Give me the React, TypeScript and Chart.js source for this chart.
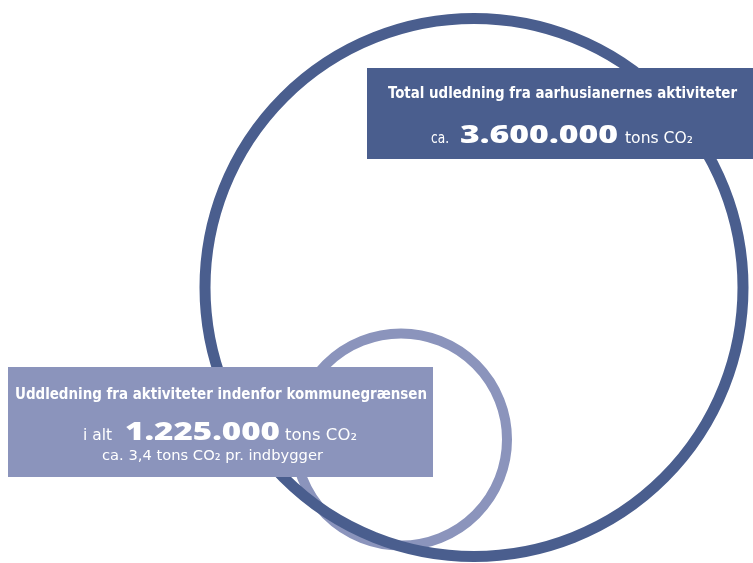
import React, { useEffect, useRef } from "react";
import { Chart, registerables } from "chart.js";

Chart.register(...registerables);

// ---- data ----
const circleTitles = [
  "Total udledning fra aarhusianernes aktiviteter",
  "Uddledning fra aktiviteter indenfor kommunegrænsen",
];
const emissionsTons = [3600000, 1225000];
const amountPrefixes = ["ca.", "i alt"];
const unitText = "tons CO₂";
const perCapitaText = "ca. 3,4 tons CO₂ pr. indbygger";
// bubble positions / radii in the chart's own (unitless) coordinate system
const bubbleX = [474, 401];
const bubbleY = [287.5, 439.5];
const bubbleR = [269, 106];

const DARK = "rgb(74, 94, 142)";
const LIGHT = "rgb(139, 148, 188)";

function fmt(n: number): string {
  return String(n).replace(/\B(?=(\d{3})+(?!\d))/g, ".");
}

function fitText(
  ctx: CanvasRenderingContext2D,
  text: string,
  font: string,
  left: number,
  right: number,
  baseline: number
) {
  ctx.save();
  ctx.font = font;
  ctx.textAlign = "left";
  ctx.textBaseline = "alphabetic";
  const w = ctx.measureText(text).width || 1;
  ctx.translate(left, baseline);
  ctx.scale((right - left) / w, 1);
  ctx.fillStyle = "#ffffff";
  ctx.fillText(text, 0, 0);
  ctx.restore();
}

const COND = "'DejaVu Sans Condensed', 'Liberation Sans Narrow', 'DejaVu Sans', sans-serif";
const BIG = "'Open Sans', 'DejaVu Sans', sans-serif";

const labelPlugin = {
  id: "labelBoxes",
  afterDatasetsDraw(chart: any) {
    const ctx: CanvasRenderingContext2D = chart.ctx;
    ctx.save();
    // top box
    ctx.fillStyle = DARK;
    ctx.fillRect(367, 68, 386, 91);
    fitText(ctx, circleTitles[0], `bold 16px ${COND}`, 388, 737, 98);
    fitText(ctx, amountPrefixes[0], `16px ${COND}`, 431, 449, 143);
    fitText(ctx, fmt(emissionsTons[0]), `800 25px ${BIG}`, 460, 618, 143);
    fitText(ctx, unitText, `15px ${COND}`, 625, 693, 143);

    // bottom box
    ctx.fillStyle = LIGHT;
    ctx.fillRect(8, 367, 425, 110);
    fitText(ctx, circleTitles[1], `bold 16px ${COND}`, 15, 427, 399);
    fitText(ctx, amountPrefixes[1], `15px ${COND}`, 83, 112, 440);
    fitText(ctx, fmt(emissionsTons[1]), `800 25px ${BIG}`, 125, 280, 440);
    fitText(ctx, unitText, `15px ${COND}`, 285, 357, 440);
    fitText(ctx, perCapitaText, `14px ${COND}`, 102, 323, 460);
    ctx.restore();
  },
};

export default function App() {
  const ref = useRef<HTMLCanvasElement | null>(null);

  useEffect(() => {
    if (!ref.current) return;
    const chart = new Chart(ref.current, {
      type: "bubble",
      data: {
        datasets: [
          {
            label: circleTitles[0],
            data: [{ x: bubbleX[0], y: bubbleY[0], r: bubbleR[0] }],
            borderColor: DARK,
            backgroundColor: "rgba(0,0,0,0)",
            borderWidth: 11,
            clip: false as any,
          },
          {
            label: circleTitles[1],
            data: [{ x: bubbleX[1], y: bubbleY[1], r: bubbleR[1] }],
            borderColor: LIGHT,
            backgroundColor: "rgba(0,0,0,0)",
            borderWidth: 10,
            clip: false as any,
          },
        ],
      },
      options: {
        responsive: false,
        animation: false,
        devicePixelRatio: 1,
        events: [],
        layout: { padding: 0, autoPadding: false },
        scales: {
          x: { type: "linear", min: 0, max: 753, display: false },
          y: { type: "linear", min: 0, max: 563, reverse: true, display: false },
        },
        plugins: {
          legend: { display: false },
          tooltip: { enabled: false },
          title: { display: false },
        },
      },
      plugins: [labelPlugin],
    });
    return () => chart.destroy();
  }, []);

  return (
    <div
      style={{
        position: "fixed",
        left: 0,
        top: 0,
        width: 753,
        height: 563,
        background: "#ffffff",
      }}
    >
      <canvas ref={ref} width={753} height={563} style={{ display: "block" }} />
    </div>
  );
}
